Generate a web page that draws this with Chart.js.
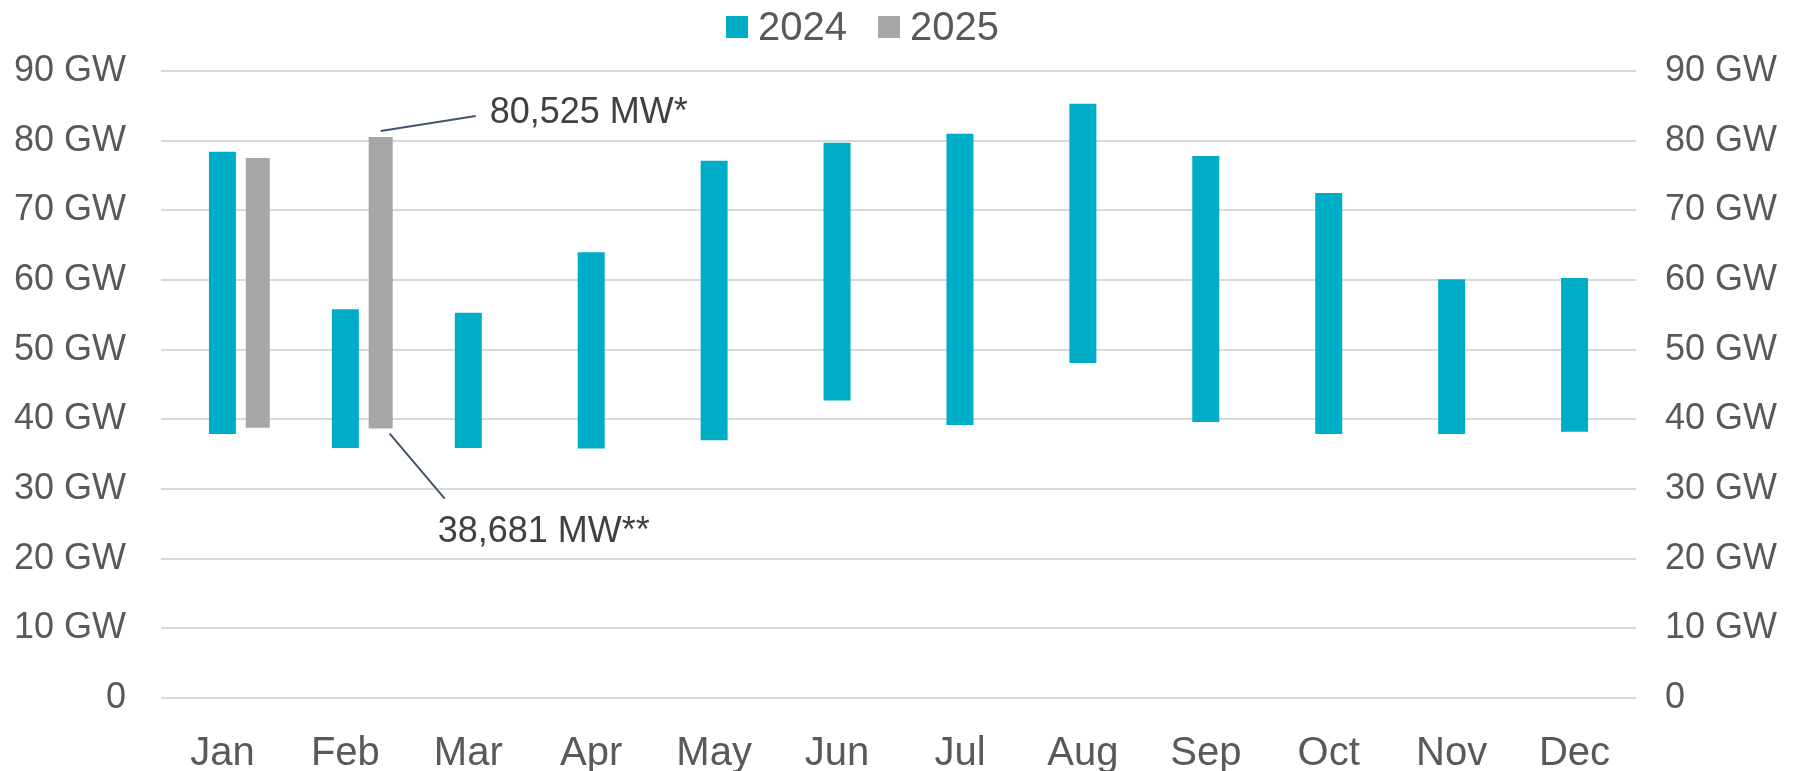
<!DOCTYPE html>
<html lang="en">
<head>
    <meta charset="UTF-8">
    <title>Monthly load range 2024 / 2025</title>
    <script src="https://cdn.jsdelivr.net/npm/chart.js"></script>
    <style>
        body {
            margin: 0;
            background: #fff;
            font-family: "Liberation Sans", Arial, sans-serif;
        }
        .wrap {
            position: relative;
            width: 1803px;
            height: 771px;
        }
        #legend {
            position: absolute;
            top: 4px;
            left: 726px;
            display: flex;
            align-items: center;
            font-size: 40px;
            color: #595959;
        }
        #legend span.box {
            display: inline-block;
            width: 22px;
            height: 22px;
            margin-right: 10px;
        }
        #legend .item {
            display: flex;
            align-items: center;
            margin-right: 31px;
        }
    </style>
</head>
<body>
<div class="wrap">
    <canvas id="chart" width="1803" height="771"></canvas>
    <div id="legend">
        <div class="item"><span class="box" style="background:#00ADC7"></span>2024</div>
        <div class="item"><span class="box" style="background:#A6A6A6"></span>2025</div>
    </div>
</div>

<script>
    // values in GW
    const months = ['Jan', 'Feb', 'Mar', 'Apr', 'May', 'Jun', 'Jul', 'Aug', 'Sep', 'Oct', 'Nov', 'Dec'];
    const low2024  = [37.9, 35.9, 35.9, 35.8, 37.0, 42.7, 39.2, 48.1, 39.6, 37.9, 37.9, 38.2];
    const high2024 = [78.4, 55.8, 55.3, 64.0, 77.1, 79.7, 81.0, 85.3, 77.8, 72.5, 60.1, 60.3];
    const low2025  = [38.8, 38.681, null, null, null, null, null, null, null, null, null, null];
    const high2025 = [77.5, 80.525, null, null, null, null, null, null, null, null, null, null];
    const yTicks = [0, 10, 20, 30, 40, 50, 60, 70, 80, 90];

    const teal = '#00ADC7';
    const grey = '#A6A6A6';
    const textColor = '#595959';
    const fontFamily = '"Liberation Sans", Arial, sans-serif';

    const range2024 = months.map((m, i) => [low2024[i], high2024[i]]);
    const range2025 = months.map((m, i) => low2025[i] == null ? null : [low2025[i], high2025[i]]);
    // empty slot on the left so 2024 stays centred when a 2025 bar sits beside it
    const spacer = range2025.map(r => r == null ? null : [0, 0]);

    // leader lines + labels for the two 2025 February extremes
    const notes = {
        id: 'notes',
        afterDatasetsDraw(chart) {
            const bar = chart.getDatasetMeta(2).data[1];
            if (!bar) return;
            const ctx = chart.ctx;
            ctx.save();
            ctx.strokeStyle = '#44546A';
            ctx.lineWidth = 2;
            ctx.beginPath();
            ctx.moveTo(bar.x, bar.y - 6);
            ctx.lineTo(bar.x + 95, bar.y - 21);
            ctx.moveTo(bar.x + 9, bar.base + 5);
            ctx.lineTo(bar.x + 64, bar.base + 70);
            ctx.stroke();

            ctx.fillStyle = '#404040';
            ctx.font = '36px ' + fontFamily;
            ctx.textBaseline = 'middle';
            ctx.textAlign = 'left';
            ctx.fillText('80,525 MW*', bar.x + 109, bar.y - 24);
            ctx.fillText('38,681 MW**', bar.x + 57, bar.base + 104);
            ctx.restore();
        }
    };

    const gwLabel = v => v === 0 ? '0' : v + ' GW';

    new Chart(document.getElementById('chart'), {
        type: 'bar',
        data: {
            labels: months,
            datasets: [
                {
                    label: '',
                    data: spacer,
                    backgroundColor: 'rgba(0,0,0,0)',
                    maxBarThickness: 24
                },
                {
                    label: '2024',
                    data: range2024,
                    backgroundColor: teal,
                    maxBarThickness: 27
                },
                {
                    label: '2025',
                    data: range2025,
                    backgroundColor: grey,
                    maxBarThickness: 24
                }
            ]
        },
        options: {
            responsive: false,
            animation: false,
            skipNull: true,
            categoryPercentage: 0.862,
            barPercentage: 1,
            layout: {
                padding: { top: 71, left: 0, right: 0, bottom: 0 }
            },
            plugins: {
                legend: { display: false },
                tooltip: { enabled: false }
            },
            scales: {
                x: {
                    grid: { display: false },
                    border: { display: false },
                    ticks: {
                        color: textColor,
                        font: { size: 40, family: fontFamily },
                        padding: 24,
                        maxRotation: 0
                    },
                    afterFit(scale) { scale.height = 73; }
                },
                y: {
                    position: 'left',
                    min: 0,
                    max: 90,
                    afterBuildTicks(scale) { scale.ticks = yTicks.map(v => ({ value: v })); },
                    grid: { color: '#D9D9D9', lineWidth: 2, drawTicks: false },
                    border: { display: false },
                    ticks: {
                        color: textColor,
                        font: { size: 36, family: fontFamily },
                        padding: 35,
                        callback: gwLabel
                    },
                    afterFit(scale) { scale.width = 161; }
                },
                y2: {
                    position: 'right',
                    min: 0,
                    max: 90,
                    afterBuildTicks(scale) { scale.ticks = yTicks.map(v => ({ value: v })); },
                    grid: { display: false, drawTicks: false },
                    border: { display: false },
                    ticks: {
                        color: textColor,
                        font: { size: 36, family: fontFamily },
                        padding: 29,
                        callback: gwLabel
                    },
                    afterFit(scale) { scale.width = 167; }
                }
            }
        },
        plugins: [notes]
    });
</script>
</body>
</html>
